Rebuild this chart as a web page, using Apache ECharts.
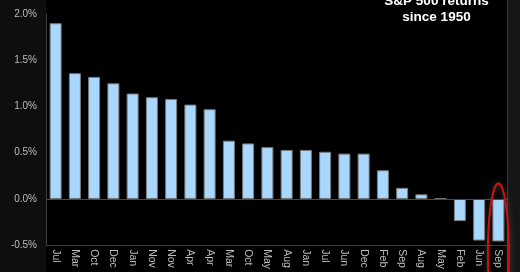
<!DOCTYPE html>
<html>
<head>
<meta charset="utf-8">
<script src="https://cdn.jsdelivr.net/npm/echarts@6/dist/echarts.min.js"></script>
<style>html,body{margin:0;padding:0;background:#0e0e0e;}#c{width:520px;height:272px;}</style>
</head>
<body>
<div id="c"></div>
<script>
const categories = ['Jul','Mar','Oct','Dec','Jan','Nov','Nov','Apr','Apr','Mar','Oct','May','Aug','Jan','Jul','Jun','Dec','Feb','Sep','Aug','May','Feb','Jun','Sep'];
const returns = [1.90,1.36,1.32,1.25,1.14,1.10,1.08,1.02,0.97,0.63,0.60,0.56,0.53,0.53,0.51,0.49,0.49,0.31,0.12,0.05,0.004,-0.24,-0.45,-0.46];
const yTicks = { min: -0.5, max: 2.0, interval: 0.5 };
const titleText = 'S&P 500 returns\nsince 1950';

const chart = echarts.init(document.getElementById('c'), null, {renderer:'canvas'});
const option = {
  backgroundColor: '#0e0e0e',
  animation: false,
  grid: { left: 46, right: 12, top: 14, bottom: 23.5, containLabel: false },
  xAxis: {
    type: 'category',
    data: categories,
    position: 'bottom',
    axisLine: { onZero: false, lineStyle: { color: '#3c3c3c', width: 1 } },
    axisTick: { show: false },
    axisLabel: { rotate: -90, color: '#bdbdbd', fontSize: 10.5, fontFamily: 'Liberation Sans, Arial', margin: 4, interval: 0 }
  },
  yAxis: {
    type: 'value',
    min: yTicks.min, max: yTicks.max, interval: yTicks.interval,
    axisLine: { show: true, lineStyle: { color: '#3c3c3c', width: 1 } },
    axisTick: { show: false },
    splitLine: { show: false },
    axisLabel: { color: '#bdbdbd', fontSize: 10, fontFamily: 'Liberation Sans, Arial', margin: 9,
      formatter: v => v.toFixed(1) + '%' }
  },
  series: [{
    type: 'bar',
    data: returns,
    barWidth: 12,
    itemStyle: { color: '#a8d8ff', borderColor: '#7a7a7a', borderWidth: 1 },
    markLine: {
      silent: true, symbol: 'none', label: { show: false },
      lineStyle: { color: '#4a4a4a', width: 1, type: 'solid' },
      data: [{ yAxis: 0 }]
    }
  }],
  graphic: [
    { type: 'rect', z: -10, silent: true, shape: { x: 46, y: 0, width: 461, height: 272 }, style: { fill: '#000' } },
    { type: 'rect', z: -10, silent: true, shape: { x: 508, y: 0, width: 12, height: 272 }, style: { fill: '#161616' } },
    { type: 'line', z: -9, silent: true, shape: { x1: 507.5, y1: 0, x2: 507.5, y2: 272 }, style: { stroke: '#3a3a3a', lineWidth: 1 } },
    { type: 'text', z: 10, x: 436.5, y: -7, style: { text: titleText, fill: '#ffffff', font: 'bold 13.5px "Liberation Sans", Arial', textAlign: 'center', lineHeight: 16 } }
  ]
};
chart.setOption(option);

// red ellipse annotation around the last bar
const last = categories.length - 1;
const c = chart.convertToPixel({ xAxisIndex: 0, yAxisIndex: 0 }, [last, returns[last]]);
const cx = c[0], rx = 10.5, ry = 70;
const cy = c[1] + 12;
const pts = [];
for (let i = 0; i <= 72; i++) {
  const a = i / 72 * Math.PI * 2;
  pts.push([cx + rx * Math.cos(a), cy + ry * Math.sin(a)]);
}
chart.setOption({ graphic: option.graphic.concat([
  { type: 'polygon', z: 20, silent: true, shape: { points: pts }, style: { fill: 'none', stroke: '#d01010', lineWidth: 2, shadowColor: 'rgba(150,150,150,0.5)', shadowBlur: 6 } }
]) });
</script>
</body>
</html>
